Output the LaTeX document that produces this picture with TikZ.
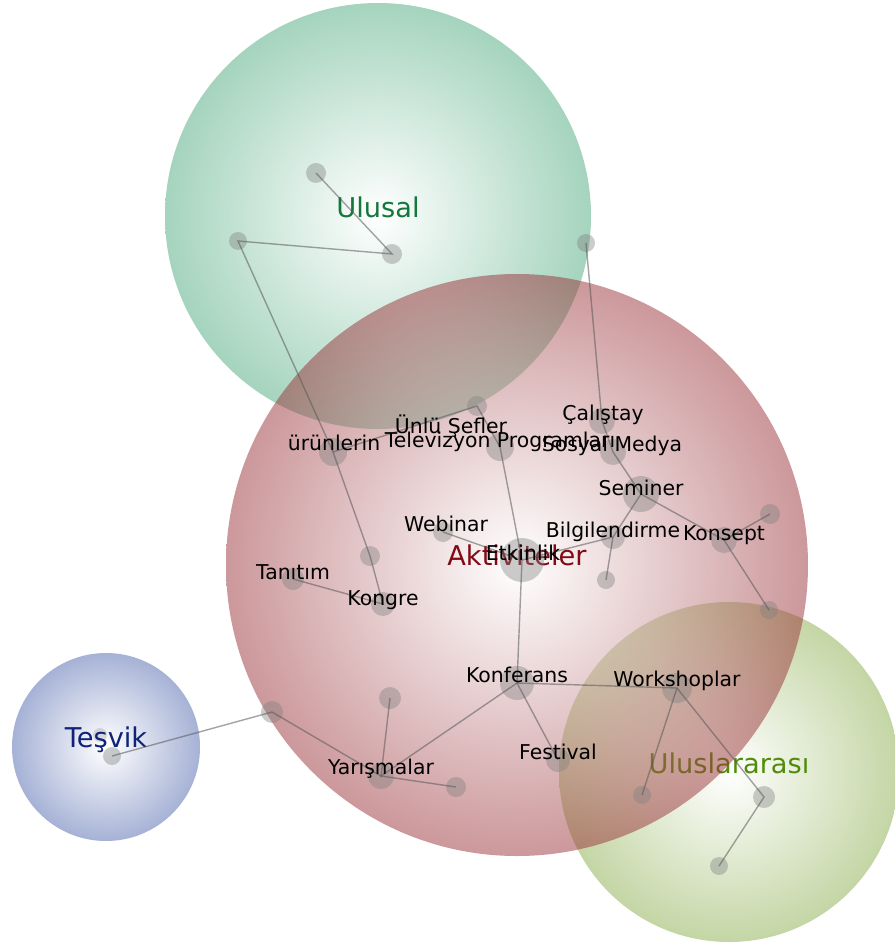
\documentclass[tikz,border=0pt]{standalone}
\usepackage{fontspec}
\setmainfont{DejaVu Sans}
\definecolor{ulusalc}{RGB}{75,169,125}
\definecolor{aktivc}{RGB}{153,49,55}
\definecolor{tesvikc}{RGB}{77,101,173}
\definecolor{uluslarc}{RGB}{137,173,75}
\definecolor{ulusaltext}{RGB}{20,120,60}
\definecolor{aktivtext}{RGB}{130,10,20}
\definecolor{tesviktext}{RGB}{15,35,120}
\definecolor{uluslartext}{RGB}{80,140,10}
\begin{document}
\begin{tikzpicture}[x=0.2mm,y=-0.2mm,
    dot/.style={circle,fill=black!50,fill opacity=0.4,inner sep=0pt,minimum size=#1},
    link/.style={draw=black!65,draw opacity=0.55,line width=0.8pt},
    lbl/.style={anchor=base,font=\fontsize{11.6}{13}\selectfont},
    setlbl/.style={anchor=base,font=\fontsize{15.5}{18}\selectfont}]
    \useasboundingbox (0,0) rectangle (894,947);
    % sets
    \shade[inner color=white,outer color=ulusalc,fill opacity=0.5] (378,216) circle (213);
    \node[setlbl,text=ulusaltext] (ulusal) at (378,218) {Ulusal};
    \shade[inner color=white,outer color=uluslarc,fill opacity=0.5] (729,772) circle (170);
    \node[setlbl,text=uluslartext] (uluslar) at (729,773) {Uluslararası};
    \shade[inner color=white,outer color=tesvikc,fill opacity=0.5] (106,747) circle (94);
    \shade[inner color=white,outer color=aktivc,fill opacity=0.5] (517,565) circle (291);
    \node[setlbl,text=aktivtext] (aktiv) at (517,565) {Aktiviteler};
    % dots
    \node[dot=4mm] (u1) at (316,173) {};
    \node[dot=4mm] (u2) at (392,254) {};
    \node[dot=3.6mm] (u3) at (238,241) {};
    \node[dot=3.6mm] (u4) at (586,243) {};
    \node[dot=8.8mm] (etk) at (522,560) {};
    \node[dot=4mm] (web) at (443,532) {};
    \node[dot=4.8mm] (bilg) at (613,537) {};
    \node[dot=3.6mm] (bilgB) at (606,580) {};
    \node[dot=7.2mm] (sem) at (641,494) {};
    \node[dot=5.2mm] (kons) at (724,540) {};
    \node[dot=4mm] (konsA) at (770,514) {};
    \node[dot=3.6mm] (konsB) at (769,610) {};
    \node[dot=5.2mm] (sosyal) at (613,452) {};
    \node[dot=5.2mm] (cal) at (602,421) {};
    \node[dot=5.6mm] (tv) at (500,447) {};
    \node[dot=4mm] (unlu) at (477,406) {};
    \node[dot=5.6mm] (urun) at (333,452) {};
    \node[dot=4mm] (mid) at (370,556) {};
    \node[dot=4.8mm] (kongre) at (383,604) {};
    \node[dot=4.4mm] (tanitim) at (293,579) {};
    \node[dot=6.8mm] (konf) at (517,683) {};
    \node[dot=6mm] (work) at (677,688) {};
    \node[dot=4.8mm] (fest) at (558,760) {};
    \node[dot=5.2mm] (yar) at (381,776) {};
    \node[dot=4.4mm] (yarA) at (390,698) {};
    \node[dot=4mm] (yarB) at (456,787) {};
    \node[dot=4.4mm] (yarC) at (272,712) {};
    \node[dot=3.6mm] (wA) at (642,795) {};
    \node[dot=4.4mm] (wB) at (764,797) {};
    \node[dot=3.6mm] (wC) at (719,866) {};
    \node[dot=3.6mm] (tes) at (112,756) {};
    \node[dot=2.8mm,fill opacity=0.25] (tes2) at (100,735) {};
    \node[setlbl,text=tesviktext] (tesvik) at (106,747) {Teşvik};
    % links
    \draw[link] (u1.center) -- (u2.center) -- (u3.center) -- (urun.center)
        -- (mid.center) -- (kongre.center) -- (tanitim.center);
    \draw[link] (urun.center) -- (unlu.center) -- (tv.center) -- (etk.center);
    \draw[link] (web.center) -- (etk.center) -- (bilg.center) -- (sem.center)
        -- (sosyal.center) -- (cal.center) -- (u4.center);
    \draw[link] (bilg.center) -- (bilgB.center);
    \draw[link] (sem.center) -- (kons.center) -- (konsA.center);
    \draw[link] (kons.center) -- (konsB.center);
    \draw[link] (etk.center) -- (konf.center) -- (work.center) -- (wA.center);
    \draw[link] (work.center) -- (wB.center) -- (wC.center);
    \draw[link] (konf.center) -- (fest.center);
    \draw[link] (konf.center) -- (yar.center) -- (yarA.center);
    \draw[link] (yarB.center) -- (yar.center) -- (yarC.center) -- (tes.center);
    % labels
    \node[lbl] (l-etk) at (523,560) {Etkinlik};
    \node[lbl] (l-web) at (446,531) {Webinar};
    \node[lbl] (l-bilg) at (613,537) {Bilgilendirme};
    \node[lbl] (l-sem) at (641,495) {Seminer};
    \node[lbl] (l-kons) at (724,540) {Konsept};
    \node[lbl] (l-sosyal) at (612,451) {Sosyal Medya};
    \node[lbl] (l-cal) at (603,420) {Çalıştay};
    \node[lbl] (l-tv) at (500,447) {Televizyon Programları};
    \node[lbl] (l-unlu) at (451,433) {Ünlü Şefler};
    \node[lbl] (l-urun) at (334,450) {ürünlerin};
    \node[lbl] (l-tanitim) at (293,579) {Tanıtım};
    \node[lbl] (l-kongre) at (383,605) {Kongre};
    \node[lbl] (l-konf) at (517,682) {Konferans};
    \node[lbl] (l-work) at (677,686) {Workshoplar};
    \node[lbl] (l-fest) at (558,759) {Festival};
    \node[lbl] (l-yar) at (381,774) {Yarışmalar};
\end{tikzpicture}
\end{document}
